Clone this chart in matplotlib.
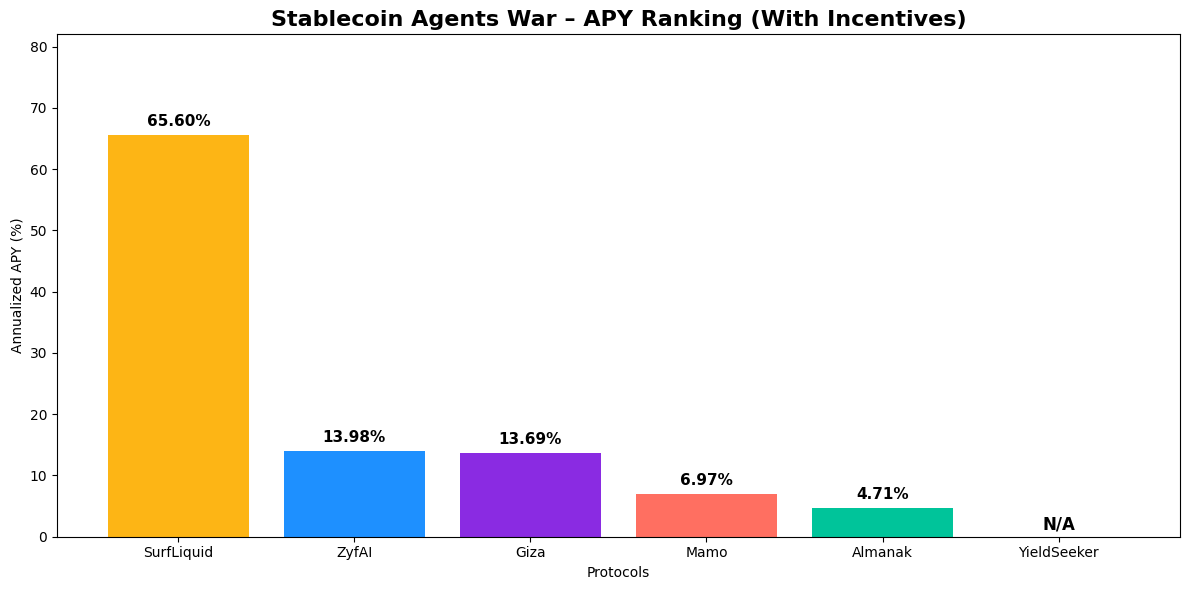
import matplotlib
matplotlib.use("Agg")
import matplotlib.pyplot as plt

protocols = ["SurfLiquid", "ZyfAI", "Giza", "Mamo", "Almanak", "YieldSeeker"]
apy = [65.60, 13.98, 13.69, 6.97, 4.71, 0.0]
labels = ["65.60%", "13.98%", "13.69%", "6.97%", "4.71%", "N/A"]
colors = ["#FDB515", "#1E90FF", "#8A2BE2", "#FF6F61", "#00C49A", "#CCCCCC"]

fig, ax = plt.subplots(figsize=(12, 6), dpi=100)
bars = ax.bar(protocols, apy, color=colors)
for b, v, lab in zip(bars, apy, labels):
    if lab == "N/A":
        ax.text(b.get_x() + b.get_width() / 2, 0.5, lab, ha="center", va="bottom",
                fontsize=12, fontweight="bold")
    else:
        ax.text(b.get_x() + b.get_width() / 2, v + 1, lab, ha="center", va="bottom",
                fontsize=11, fontweight="bold")
ax.set_ylim(0, max(apy) * 1.25)
ax.set_title("Stablecoin Agents War – APY Ranking (With Incentives)", fontsize=16, fontweight="bold")
ax.set_xlabel("Protocols")
ax.set_ylabel("Annualized APY (%)")
fig.tight_layout()
fig.savefig("out.png", dpi=100, bbox_inches="tight")
